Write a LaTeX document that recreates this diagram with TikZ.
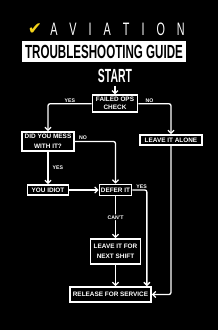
\documentclass[tikz,border=0pt]{standalone}
\usepackage{fontspec}
\usepackage{graphicx}
\setmainfont{Liberation Sans}
\newfontfamily\symfont{DejaVu Sans}
\usetikzlibrary{arrows.meta, positioning}
\definecolor{atgyellow}{HTML}{F4D31A}
\definecolor{atgback}{HTML}{000000}
\tikzset{
  flowbox/.style={rectangle, draw=white, line width=1.7pt, fill=atgback, text=white, align=center,
    inner sep=1pt, font=\fontsize{6.4}{9.5}\selectfont\bfseries},
  headline/.style={inner sep=0pt, font=\fontsize{19}{19}\selectfont\bfseries},
  tag/.style={text=white, inner sep=1pt, font=\fontsize{5.2}{6}\selectfont\bfseries},
  link/.style={line width=1.3pt, white, rounded corners=2pt},
  arr/.style={link, -{Straight Barb[length=3pt,width=6pt]}},
}

\begin{document}
\begin{tikzpicture}[x=1pt, y=-1pt]
    \fill[atgback] (0,0) rectangle (218,330);
    \useasboundingbox (0,0) rectangle (218,330);
    % heading
    \node[text=atgyellow, inner sep=0pt, font=\symfont\fontsize{17}{17}\selectfont] (check) at (35,29) {✔};
    \node[text=white, inner sep=0pt, font=\fontsize{18}{18}\selectfont] (aviation) at (117.5,29)
      {\scalebox{0.6}[1]{A\kern20pt V\kern20pt I\kern20pt A\kern20pt T\kern20pt I\kern20pt O\kern20pt N}};
    \node[headline, fill=white, text=black, minimum width=164pt, minimum height=21pt] (guide) at (104,51.5)
      {\scalebox{0.61}[1]{TROUBLESHOOTING GUIDE}};
    \node[headline, text=white] (start) at (115,76) {\scalebox{0.55}[1]{START}};
    % boxes
    \node[flowbox, minimum width=45pt, minimum height=17pt, font=\fontsize{6.4}{8}\selectfont\bfseries,
      below=11.5pt of start] (failed) {FAILED OPS\\CHECK};
    \node[flowbox, minimum width=52pt, minimum height=19pt] (mess) at (48,141.5) {DID YOU MESS\\WITH IT?};
    \node[flowbox, minimum width=62pt, minimum height=10pt] (alone) at (171,140) {LEAVE IT ALONE};
    \node[flowbox, minimum width=41pt, minimum height=10pt] (idiot) at (48,190) {YOU IDIOT};
    \node[flowbox, minimum width=32pt, minimum height=11pt] (defer) at (115.5,190) {DEFER IT};
    \node[flowbox, minimum width=50pt, minimum height=25pt] (nextshift) at (115.5,251.5) {LEAVE IT FOR\\NEXT SHIFT};
    \node[flowbox, minimum width=81pt, minimum height=15pt] (release) at (110.5,294.5) {RELEASE FOR SERVICE};
    % connectors
    \draw[arr, shorten <=3pt] (start) -- (failed);
    \draw[arr] (failed.west) -| node[tag, pos=0.25, above] {YES} (mess.north);
    \draw[arr] (failed.east) -| node[tag, pos=0.17, above] {NO} (alone.north);
    \draw[arr] (mess.east) -| node[tag, pos=0.1, above] {NO} (defer.north);
    \draw[arr] (mess) -- node[tag, right=3pt] {YES} (idiot);
    \draw[arr] (idiot) -- (defer);
    \draw[arr] (defer.east) -| node[tag, pos=0.32, above] {YES} ([xshift=-5pt]release.north east);
    \draw[arr] (defer) -- node[tag, fill=atgback] {CAN'T} (nextshift);
    \draw[arr] (nextshift.south) -- (nextshift.south |- release.north);
    \draw[arr] (alone.south) |- (release.east);
  \end{tikzpicture}
\end{document}
